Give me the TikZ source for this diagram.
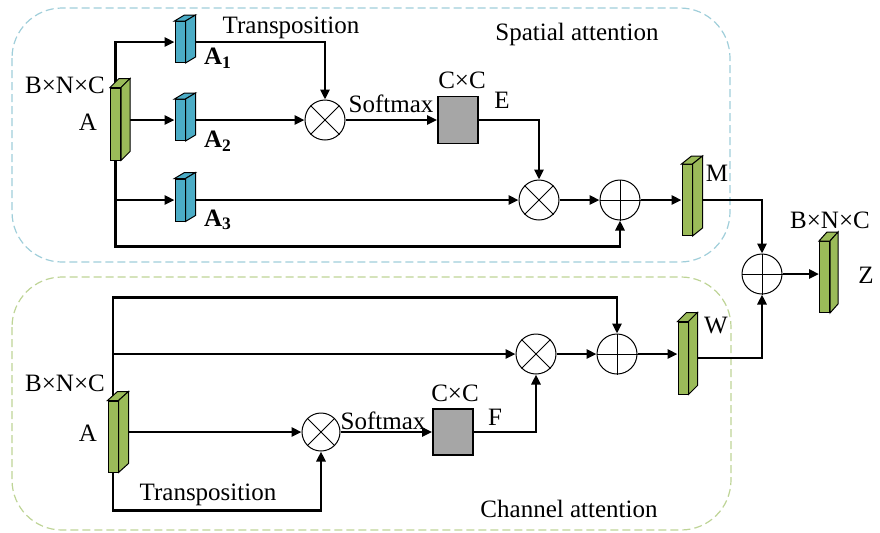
\documentclass[tikz,border=0pt]{standalone}
\usepackage{fontspec}
\setmainfont{Liberation Serif}
\usetikzlibrary{positioning, arrows.meta, calc}

\definecolor{featgreen}{RGB}{155,187,89}
\definecolor{featblue}{RGB}{75,172,198}
\definecolor{mapgray}{RGB}{166,166,166}
\definecolor{spaframe}{RGB}{160,206,218}
\definecolor{chaframe}{RGB}{190,212,150}

% top and side faces of a feature block
\newcommand{\slabfaces}[4]{%
	\filldraw[fill=#2, draw=black, line width=0.5pt] (#1.north west) -- ++(#3,-#4) -- ([shift={(#3,-#4)}]#1.north east) -- (#1.north east) -- cycle;
	\filldraw[fill=#2, draw=black, line width=0.5pt] (#1.north east) -- ++(#3,-#4) -- ([shift={(#3,-#4)}]#1.south east) -- (#1.south east) -- cycle;
}

\begin{document}
\begin{tikzpicture}[x=0.5pt, y=-0.5pt, font=\fontsize{12.5}{15}\selectfont,
	feat/.style={draw=black, line width=0.5pt, inner sep=0pt, minimum width=5pt},
	map/.style={draw=black, line width=0.9pt, fill=mapgray, inner sep=0pt, minimum width=20pt, minimum height=23.5pt},
	op/.style={circle, draw=black, line width=0.5pt, fill=white, inner sep=0pt, minimum size=20pt},
	conn/.style={line width=1.3pt, -{Triangle[length=5pt, width=4.5pt]}},
	frame/.style={dash pattern=on 4pt off 2pt, line width=0.6pt, rounded corners=25pt}]
					\useasboundingbox (0,0) rectangle (880,532);

					\draw[frame, draw=spaframe] (12,8) rectangle (730,262);
					\draw[frame, draw=chaframe] (12,277) rectangle (731,530);

					% spatial branch
					\node[feat, fill=featgreen, minimum height=36pt] (A top) at (115.5,124) {};
					\node[feat, fill=featblue, minimum height=20.5pt] (A one) at (180,42) {};
					\node[feat, fill=featblue, minimum height=20.5pt] (A two) at (180,120) {};
					\node[feat, fill=featblue, minimum height=21pt] (A three) at (180,200) {};
					\node[op] (mul a) at (325,120) {};
					\node[map] (E) at (458,120) {};
					\node[op] (mul b) at (539,200) {};
					\node[op] (add a) at (620,200) {};
					\node[feat, fill=featgreen, minimum height=35.5pt] (M) at (687,200) {};

					% fusion
					\node[op] (add z) at (762,274) {};
					\node[feat, fill=featgreen, minimum height=35.5pt] (Z) at (824.5,277) {};

					% channel branch
					\node[feat, fill=featgreen, minimum height=35.5pt] (A bot) at (113,436.5) {};
					\node[op, minimum size=19pt] (mul c) at (321,432) {};
					\node[map, minimum height=23pt] (F) at (453,432) {};
					\node[op] (mul d) at (536,354) {};
					\node[op] (add b) at (617,354) {};
					\node[feat, fill=featgreen, minimum height=36pt] (W) at (683,358) {};

					\draw[conn] (A top.north) |- (A one.west);
					\draw[conn] (A one.east) -| (mul a.north);
					\draw[conn] (A top.east |- A two.west) -- (A two.west);
					\draw[conn] (A two.east |- mul a.west) -- (mul a.west);
					\draw[conn] (mul a.east) -- (E.west);
					\draw[conn] (E.east) -| (mul b.north);
					\draw[conn] (A top.south) |- (A three.west);
					\draw[conn] (A three.east) -- (mul b.west);
					\draw[conn] (mul b.east) -- (add a.west);
					\draw[conn] (A top.south) -- ++(0,86) -| (add a.south);
					\draw[conn] (add a.east) -- (M.west);
					\draw[conn] (M.east) -| (add z.north);
					\draw[conn] (add z.east) -- (add z.east -| Z.west);
					\draw[conn] (W.east) -| (add z.south);

					\draw[conn] (A bot.north) -- ++(0,-103) -| (add b.north);
					\draw[conn] (A bot.north) |- (mul d.west);
					\draw[conn] (mul d.east) -- (add b.west);
					\draw[conn] (add b.east) -- (add b.east -| W.west);
					\draw[conn] (A bot.east |- mul c.west) -- (mul c.west);
					\draw[conn] (mul c.east) -- (F.west);
					\draw[conn] (F.east) -| (mul d.south);
					\draw[conn] (A bot.south) -- ++(0,38) -| (mul c.south);

					\foreach \m in {mul a, mul b, mul c, mul d}
						\draw[line width=0.5pt] (\m.north west) -- (\m.south east) (\m.north east) -- (\m.south west);
					\foreach \p in {add a, add b, add z}
						\draw[line width=0.5pt] (\p.north) -- (\p.south) (\p.west) -- (\p.east);

					\slabfaces{A top}{featgreen}{9}{9}
					\slabfaces{A one}{featblue}{10}{6}
					\slabfaces{A two}{featblue}{10}{6}
					\slabfaces{A three}{featblue}{10}{6}
					\slabfaces{M}{featgreen}{10}{8}
					\slabfaces{Z}{featgreen}{8}{9}
					\slabfaces{W}{featgreen}{9}{9}
					\slabfaces{A bot}{featgreen}{10}{9}

					% labels
					\node (dim top) at (65,85) {B×N×C};
					\node (lab a top) at (88,122) {A};
					\node (tr top) at (291,28) {Transposition};
					\node (lab a1) at (218,58) {\textbf{A\textsubscript{1}}};
					\node (lab a2) at (218,141) {\textbf{A\textsubscript{2}}};
					\node (lab a3) at (218,220) {\textbf{A\textsubscript{3}}};
					\node (sm top) at (391,104) {Softmax};
					\node (cc top) at (462,80) {C×C};
					\node (lab e) at (502,100) {E};
					\node (spa) at (577,34) {Spatial attention};
					\node (lab m) at (717,173) {M};
					\node (dim z) at (830,220) {B×N×C};
					\node (lab z) at (866,275) {Z};
					\node (lab w) at (716,325) {W};
					\node (dim bot) at (65,383) {B×N×C};
					\node (lab a bot) at (88,433) {A};
					\node (sm bot) at (383,421) {Softmax};
					\node (cc bot) at (455,393) {C×C};
					\node (lab f) at (495,417) {F};
					\node (tr bot) at (208,495) {Transposition};
					\node (cha) at (569,509) {Channel attention};
\end{tikzpicture}
\end{document}
